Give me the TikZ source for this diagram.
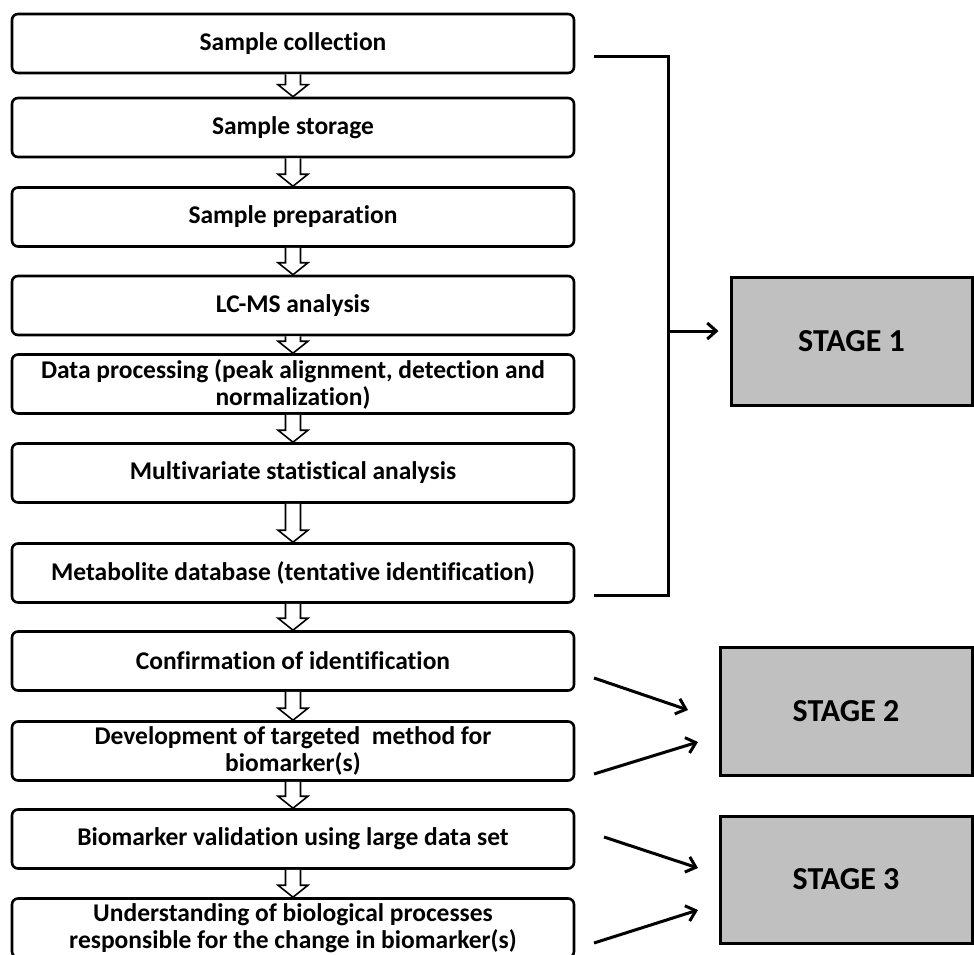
\documentclass[tikz,border=0pt]{standalone}
\usepackage{fontspec}
\setmainfont{Carlito}[RawFeature=-liga]
\usetikzlibrary{arrows.meta,calc}
\definecolor{stagegray}{RGB}{192,192,192}
\newcommand\hollowarrow[2]{%
  \draw[hollow] ($(#1.south)+(-7.5,0)$) -- ($(#2.north)+(-7.5,12)$) -- ($(#2.north)+(-15,12)$) -- (#2.north) -- ($(#2.north)+(15,12)$) -- ($(#2.north)+(7.5,12)$) -- ($(#1.south)+(7.5,0)$);}
\begin{document}
\begin{tikzpicture}[x=1pt,y=1pt,
  flowbox/.style={draw, line width=2.6pt, rounded corners=6pt, fill=white, minimum width=562pt, minimum height=59pt, align=center, inner sep=0pt, font=\bfseries\fontsize{25.5}{27}\selectfont},
  stagebox/.style={draw, line width=3pt, fill=stagegray, inner sep=0pt, font=\bfseries\fontsize{32}{38}\selectfont},
  hollow/.style={line width=1.6pt, fill=white, line join=miter},
  link/.style={line width=3pt},
  linkarrow/.style={line width=3pt, -{Straight Barb[length=9pt,width=16pt]}}
]
\useasboundingbox (0,0) rectangle (974,-955);

\node[flowbox] (b1) at (293,-43.5) {Sample collection};
\node[flowbox] (b2) at (293,-127.5) {Sample storage};
\node[flowbox] (b3) at (293,-217) {Sample preparation};
\node[flowbox] (b4) at (293,-305.5) {LC-MS analysis};
\node[flowbox] (b5) at (293,-384) {Data processing (peak alignment, detection and\\normalization)};
\node[flowbox] (b6) at (293,-473) {Multivariate statistical analysis};
\node[flowbox] (b7) at (293,-573) {Metabolite database (tentative identification)};
\node[flowbox] (b8) at (293,-661) {Confirmation of identification};
\node[flowbox] (b9) at (293,-751) {Development of targeted~~method for\\biomarker(s)};
\node[flowbox] (b10) at (293,-839) {Biomarker validation using large data set};
\node[flowbox] (b11) at (293,-928) {Understanding of biological processes\\responsible for the change in biomarker(s)};

\hollowarrow{b1}{b2}
\hollowarrow{b2}{b3}
\hollowarrow{b3}{b4}
\hollowarrow{b4}{b5}
\hollowarrow{b5}{b6}
\hollowarrow{b6}{b7}
\hollowarrow{b7}{b8}
\hollowarrow{b8}{b9}
\hollowarrow{b9}{b10}
\hollowarrow{b10}{b11}

\node[stagebox, minimum width=241pt, minimum height=128pt] (s1) at (851.5,-341) {STAGE 1};
\node[stagebox, minimum width=252pt, minimum height=128pt] (s2) at (846,-711) {STAGE 2};
\node[stagebox, minimum width=252pt, minimum height=127pt] (s3) at (846,-879.5) {STAGE 3};

\coordinate (bt) at (594,-57);
\coordinate (bb) at (594,-595);
\coordinate (bm) at (668,-331);
\draw[link, line join=miter] (bt) -- (668,-57) -- (668,-595) -- (bb);
\draw[linkarrow, shorten >=11pt] (bm) -- (bm -| s1.west);

\coordinate (p1) at (594,-678);
\coordinate (q1) at (688,-710);
\coordinate (p2) at (594,-774);
\coordinate (q2) at (698,-742);
\coordinate (p3) at (604,-837);
\coordinate (q3) at (698,-868);
\coordinate (p4) at (594,-943);
\coordinate (q4) at (698,-910);
\draw[linkarrow] (p1) -- (q1);
\draw[linkarrow] (p2) -- (q2);
\draw[linkarrow] (p3) -- (q3);
\draw[linkarrow] (p4) -- (q4);
\end{tikzpicture}
\end{document}
